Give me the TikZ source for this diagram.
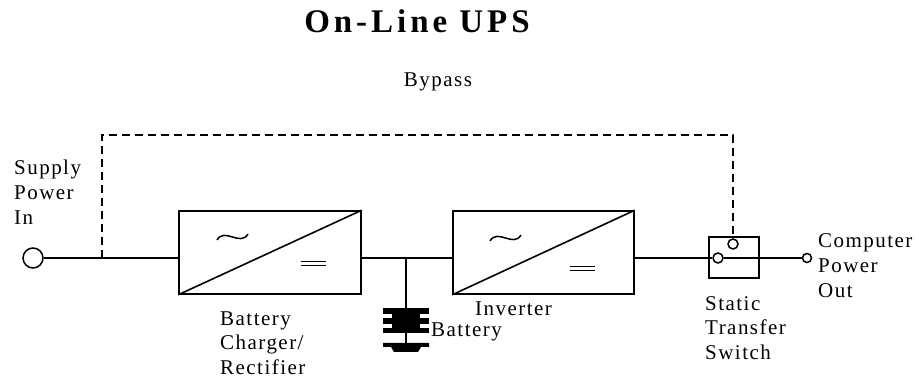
\documentclass[tikz,border=0pt]{standalone}
\usepackage{fontspec}
\setmainfont{Liberation Serif}[LetterSpace=7]
\begin{document}
\begin{tikzpicture}[x=1pt,y=-1pt,
  wire/.style={line width=1.6pt},
  bypass/.style={line width=1.8pt,dash pattern=on 8pt off 5pt},
  conv/.style={draw,line width=1.6pt,rectangle,inner sep=0pt},
  term/.style={draw,line width=1.5pt,circle,inner sep=0pt,fill=white},
  acsym/.style={line width=1.5pt},
  dcsym/.style={line width=1.3pt},
  lbl/.style={inner sep=0pt,align=left,anchor=base west,font=\fontsize{21}{25}\selectfont}]
\useasboundingbox (0,0) rectangle (919,379);
% title
\node[inner sep=0pt,anchor=base,font=\fontsize{33}{33}\selectfont\bfseries\addfontfeature{LetterSpace=12}] (title) at (417,33) {On-Line UPS};
\node[inner sep=0pt,anchor=base,font=\fontsize{21}{21}\selectfont] (bylbl) at (438,87) {Bypass};
% terminals
\node[term,minimum size=20pt] (in) at (33,258) {};
\node[term,minimum size=9pt] (out) at (807,258) {};
% converter boxes
\node[conv,minimum width=182pt,minimum height=83pt] (b1) at (270,252.5) {};
\node[conv,minimum width=181pt,minimum height=83pt] (b2) at (543.5,252.5) {};
\draw[wire] (b1.south west) -- (b1.north east);
\draw[wire] (b2.south west) -- (b2.north east);
% AC symbols
\coordinate (ac1) at (232.5,237);
\coordinate (ac2) at (505.5,238);
\draw[acsym] ([shift={(-15.5,3)}]ac1) .. controls ([shift={(-8,-10)}]ac1) and ([shift={(8,10)}]ac1) .. ([shift={(15.5,-3)}]ac1);
\draw[acsym] ([shift={(-15.5,3)}]ac2) .. controls ([shift={(-8,-10)}]ac2) and ([shift={(8,10)}]ac2) .. ([shift={(15.5,-3)}]ac2);
% DC symbols
\coordinate (dc1) at (313,263.5);
\coordinate (dc2) at (582,268.5);
\draw[dcsym] ([shift={(-12.5,-2.2)}]dc1) -- ([shift={(12.5,-2.2)}]dc1) ([shift={(-12.5,2.2)}]dc1) -- ([shift={(12.5,2.2)}]dc1);
\draw[dcsym] ([shift={(-12.5,-2.2)}]dc2) -- ([shift={(12.5,-2.2)}]dc2) ([shift={(-12.5,2.2)}]dc2) -- ([shift={(12.5,2.2)}]dc2);
% static switch
\node[conv,minimum width=50pt,minimum height=41pt] (sw) at (734,257.5) {};
\node[term,minimum size=10pt] (st) at (733,244) {};
\node[term,minimum size=10pt] (sl) at (718,258) {};
% wiring
\coordinate (tap) at (102,258);
\coordinate (j) at (406,258);
\draw[wire] (in.east) -- (b1.west |- in.east);
\draw[wire] (b1.east |- j) -- (b2.west |- j);
\draw[wire] (b2.east |- sl) -- (sl.west);
\draw[wire] (sl.east) -- (out.west);
\draw[bypass] (tap) -- (102,135) -- (733,135) -- (st.north);
% battery
\coordinate (bt) at (406,308);
\draw[wire] (j) -- (bt);
\fill (383,308) rectangle (429,314);
\fill (383,318) rectangle (429,324);
\fill (383,328) rectangle (429,333);
\fill (392,308) rectangle (420,333);
\draw[wire] (406,333) -- (406,344);
\fill (383,343) -- (429,343) -- (429,347) -- (421,347) -- (418,352) -- (394,352) -- (391,347) -- (383,347) -- cycle;
% labels
\node[lbl] (lin) at (14,225) {Supply\\Power\\In};
\node[lbl] (lb1) at (220,375) {Battery\\Charger/\\Rectifier};
\node[lbl] (lbat) at (431,337) {Battery};
\node[lbl] (linv) at (475,316) {Inverter};
\node[lbl] (lsw) at (705,360) {Static\\Transfer\\Switch};
\node[lbl] (lout) at (818,298) {Computer\\Power\\Out};
\end{tikzpicture}
\end{document}
